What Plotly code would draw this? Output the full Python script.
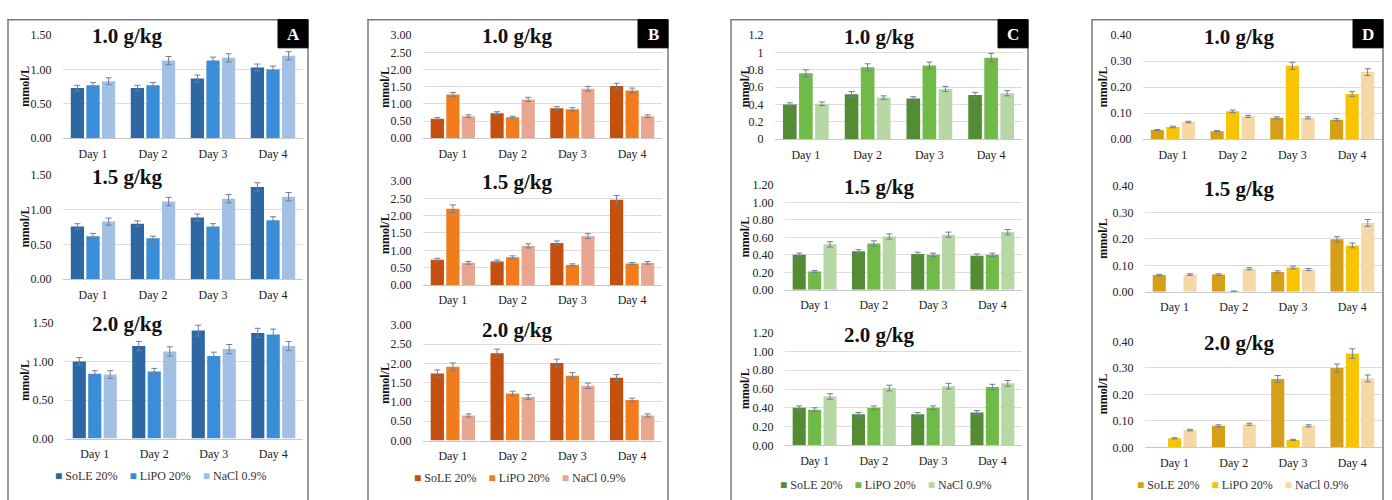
import plotly.graph_objects as go

days = ["Day 1", "Day 2", "Day 3", "Day 4"]
series_names = ["SoLE 20%", "LiPO 20%", "NaCl 0.9%"]
dose_titles = ["1.0 g/kg", "1.5 g/kg", "2.0 g/kg"]
panel_letters = ["A", "B", "C", "D"]

# ---- Panel A (values: [SoLE, LiPO, NaCl] per day) ----
A_10 = [[0.73, 0.73, 0.87, 1.03], [0.77, 0.77, 1.13, 1.00], [0.83, 1.13, 1.17, 1.20]]
A_10_err = [[0.04, 0.04, 0.05, 0.05], [0.04, 0.04, 0.05, 0.05], [0.05, 0.06, 0.06, 0.06]]
A_15 = [[0.76, 0.80, 0.89, 1.33], [0.62, 0.59, 0.76, 0.85], [0.83, 1.12, 1.16, 1.19]]
A_15_err = [[0.04, 0.04, 0.05, 0.06], [0.04, 0.03, 0.04, 0.05], [0.05, 0.06, 0.06, 0.06]]
A_20 = [[1.00, 1.20, 1.40, 1.37], [0.84, 0.87, 1.07, 1.35], [0.83, 1.13, 1.16, 1.20]]
A_20_err = [[0.05, 0.06, 0.07, 0.06], [0.04, 0.04, 0.05, 0.07], [0.05, 0.06, 0.06, 0.06]]

# ---- Panel B ----
B_10 = [[0.57, 0.73, 0.87, 1.52], [1.27, 0.61, 0.84, 1.39], [0.64, 1.13, 1.44, 0.64]]
B_10_err = [[0.03, 0.04, 0.05, 0.08], [0.06, 0.03, 0.05, 0.07], [0.04, 0.06, 0.07, 0.04]]
B_15 = [[0.73, 0.68, 1.21, 2.46], [2.20, 0.80, 0.58, 0.62], [0.64, 1.13, 1.41, 0.64]]
B_15_err = [[0.04, 0.04, 0.06, 0.12], [0.11, 0.04, 0.03, 0.03], [0.04, 0.06, 0.07, 0.04]]
B_20 = [[1.74, 2.26, 2.01, 1.63], [1.91, 1.22, 1.68, 1.05], [0.65, 1.13, 1.42, 0.65]]
B_20_err = [[0.09, 0.11, 0.10, 0.08], [0.10, 0.06, 0.08, 0.05], [0.04, 0.06, 0.07, 0.04]]

# ---- Panel C ----
C_10 = [[0.40, 0.52, 0.47, 0.51], [0.76, 0.83, 0.85, 0.94], [0.41, 0.48, 0.58, 0.53]]
C_10_err = [[0.02, 0.03, 0.02, 0.03], [0.04, 0.04, 0.04, 0.05], [0.02, 0.02, 0.03, 0.03]]
C_15 = [[0.40, 0.44, 0.41, 0.39], [0.21, 0.53, 0.40, 0.40], [0.52, 0.61, 0.63, 0.66]]
C_15_err = [[0.02, 0.02, 0.02, 0.02], [0.01, 0.03, 0.02, 0.02], [0.03, 0.03, 0.03, 0.03]]
C_20 = [[0.40, 0.33, 0.33, 0.35], [0.38, 0.40, 0.40, 0.62], [0.52, 0.61, 0.63, 0.66]]
C_20_err = [[0.02, 0.02, 0.02, 0.02], [0.02, 0.02, 0.02, 0.03], [0.03, 0.03, 0.03, 0.03]]

# ---- Panel D ----
D_10 = [[0.035, 0.031, 0.082, 0.075], [0.047, 0.107, 0.282, 0.174], [0.066, 0.088, 0.082, 0.258]]
D_10_err = [[0.002, 0.002, 0.004, 0.004], [0.003, 0.005, 0.014, 0.009], [0.003, 0.004, 0.004, 0.013]]
D_15 = [[0.063, 0.065, 0.075, 0.198], [None, 0.002, 0.092, 0.175], [0.065, 0.087, 0.084, 0.260]]
D_15_err = [[0.003, 0.003, 0.004, 0.010], [0.0, 0.001, 0.005, 0.009], [0.003, 0.004, 0.004, 0.013]]
D_20 = [[None, 0.081, 0.258, 0.299], [0.034, None, 0.028, 0.354], [0.065, 0.087, 0.081, 0.260]]
D_20_err = [[0.0, 0.004, 0.013, 0.015], [0.002, 0.0, 0.002, 0.018], [0.003, 0.004, 0.004, 0.013]]

panel_data = {
    "A": [(A_10, A_10_err), (A_15, A_15_err), (A_20, A_20_err)],
    "B": [(B_10, B_10_err), (B_15, B_15_err), (B_20, B_20_err)],
    "C": [(C_10, C_10_err), (C_15, C_15_err), (C_20, C_20_err)],
    "D": [(D_10, D_10_err), (D_15, D_15_err), (D_20, D_20_err)],
}

# ---- styling / geometry (pixels) ----
W, H = 1392, 500
SERIF = "Liberation Serif, Times New Roman, serif"
geom = {
    "A": dict(xs=[(63, 303), (63, 303), (65, 303)], ys=[(29, 135), (173, 280), (325, 444)],
              frame=(8, 308), ylab_x=25,
              title_x=127, title_ys=[30, 175, 326], legend=(160, 483), ymax=1.5, dtick=0.5,
              fmts=[".2f", ".2f", ".2f"],
              colors=["#2d67a4", "#3a8dd8", "#a2c0e3"]),
    "B": dict(xs=[(423, 662)] * 3, ys=[(29, 135), (179, 286), (327, 446)],
              frame=(368, 668), ylab_x=385,
              title_x=517, title_ys=[30, 180, 332], legend=(519, 485), ymax=3.0, dtick=0.5,
              fmts=[".2f", ".2f", ".2f"],
              colors=["#c44f0f", "#f27c1c", "#e8a690"]),
    "C": dict(xs=[(775, 1022), (785, 1022), (785, 1022)], ys=[(29, 136), (183, 291), (335, 451)],
              frame=(731, 1028), ylab_x=745,
              title_x=879, title_ys=[31, 185, 337], legend=(885, 492), ymax=1.2, dtick=0.2,
              fmts=["", ".2f", ".2f"],
              colors=["#548c35", "#70ba47", "#b7d8a5"]),
    "D": dict(xs=[(1143, 1382), (1145, 1382), (1145, 1382)], ys=[(29, 136), (184, 293), (344, 453)],
              frame=(1092, 1383), ylab_x=1103,
              title_x=1239, title_ys=[31, 187, 346], legend=(1242, 492), ymax=0.4, dtick=0.1,
              fmts=[".2f", ".2f", ".2f"],
              colors=["#d59f18", "#f8c300", "#f6d8a6"]),
}

fig = go.Figure()
layout = dict(
    width=W, height=H, margin=dict(l=0, r=0, t=0, b=0, pad=0),
    paper_bgcolor="white", plot_bgcolor="white",
    barmode="group", bargap=0.22, bargroupgap=0.15, showlegend=False,
    font=dict(family=SERIF, size=12, color="#333333"),
)
annotations = []
shapes = []

ax = 0
for pi, letter in enumerate(panel_letters):
    g = geom[letter]
    for di in range(3):
        ax += 1
        xa = "x" if ax == 1 else f"x{ax}"
        ya = "y" if ax == 1 else f"y{ax}"
        xkey = "xaxis" if ax == 1 else f"xaxis{ax}"
        ykey = "yaxis" if ax == 1 else f"yaxis{ax}"
        vals, errs = panel_data[letter][di]
        x0, x1 = g["xs"][di]
        y0, y1 = g["ys"][di]
        for si in range(3):
            fig.add_trace(go.Bar(
                x=days, y=vals[si], name=series_names[si],
                marker=dict(color=g["colors"][si], line=dict(width=0)),
                error_y=dict(type="data", array=errs[si], visible=True,
                             color="#6f7f95", thickness=1, width=3),
                xaxis=xa, yaxis=ya,
            ))
        layout[xkey] = dict(
            domain=[x0 / W, x1 / W], anchor=ya,
            showgrid=False, showline=True, linecolor="#c8c8c8", linewidth=1,
            ticks="outside", ticklen=4, tickcolor="rgba(0,0,0,0)",
            tickfont=dict(family=SERIF, size=12, color="#222222"),
            fixedrange=True,
        )
        layout[ykey] = dict(
            domain=[1 - y1 / H, 1 - y0 / H], anchor=xa,
            range=[0, g["ymax"]], dtick=g["dtick"], tick0=0,
            tickformat=g["fmts"][di],
            showgrid=True, gridcolor="#dcdcdc", gridwidth=1,
            zeroline=False, showline=False,
            ticks="outside", ticklen=8, tickcolor="rgba(0,0,0,0)",
            tickfont=dict(family=SERIF, size=12, color="#222222"),
            fixedrange=True,
        )
        # dose title
        annotations.append(dict(
            text=f"<b>{dose_titles[di]}</b>", x=g["title_x"] / W, y=1 - g["title_ys"][di] / H,
            xref="paper", yref="paper", xanchor="center", yanchor="middle", showarrow=False,
            font=dict(family=SERIF, size=21, color="#111111"), bgcolor="white", borderpad=0,
        ))
        # y axis title
        annotations.append(dict(
            text="<b>mmol/L</b>", x=g["ylab_x"] / W, y=1 - ((y0 + y1) / 2) / H,
            xref="paper", yref="paper", xanchor="center", yanchor="middle", showarrow=False,
            textangle=-90, font=dict(family=SERIF, size=12, color="#111111"),
        ))
    # panel frame (bottom edge runs off the picture, as in the reference)
    fx0, fx1 = g["frame"]
    shapes.append(dict(type="rect", xref="paper", yref="paper",
                       x0=fx0 / W, x1=fx1 / W, y0=-0.05, y1=1 - 13 / H,
                       line=dict(color="#7a7a7a", width=1.5), fillcolor="rgba(0,0,0,0)"))
    # letter box
    shapes.append(dict(type="rect", xref="paper", yref="paper",
                       x0=(fx1 - 30) / W, x1=fx1 / W, y0=1 - 42 / H, y1=1 - 13 / H,
                       line=dict(color="black", width=1), fillcolor="black"))
    annotations.append(dict(
        text=f"<b>{letter}</b>", x=(fx1 - 15) / W, y=1 - 28 / H,
        xref="paper", yref="paper", xanchor="center", yanchor="middle", showarrow=False,
        font=dict(family=SERIF, size=17, color="white"),
    ))
    # legend (colored square glyphs + series names)
    legend_text = "&nbsp;&nbsp;&nbsp;&nbsp;".join(
        f"<span style='color:{c}'>■</span>&nbsp;{n}" for c, n in zip(g["colors"], series_names)
    )
    annotations.append(dict(
        text=legend_text, x=g["legend"][0] / W, y=1 - g["legend"][1] / H,
        xref="paper", yref="paper", xanchor="center", yanchor="middle", showarrow=False,
        font=dict(family=SERIF, size=12, color="#333333"),
    ))

layout["annotations"] = annotations
layout["shapes"] = shapes
fig.update_layout(**layout)
fig.write_html(
    "out.html",
    config={"displayModeBar": False, "staticPlot": True},
    post_script="document.body.style.margin='0';document.body.style.overflow='hidden';",
)
